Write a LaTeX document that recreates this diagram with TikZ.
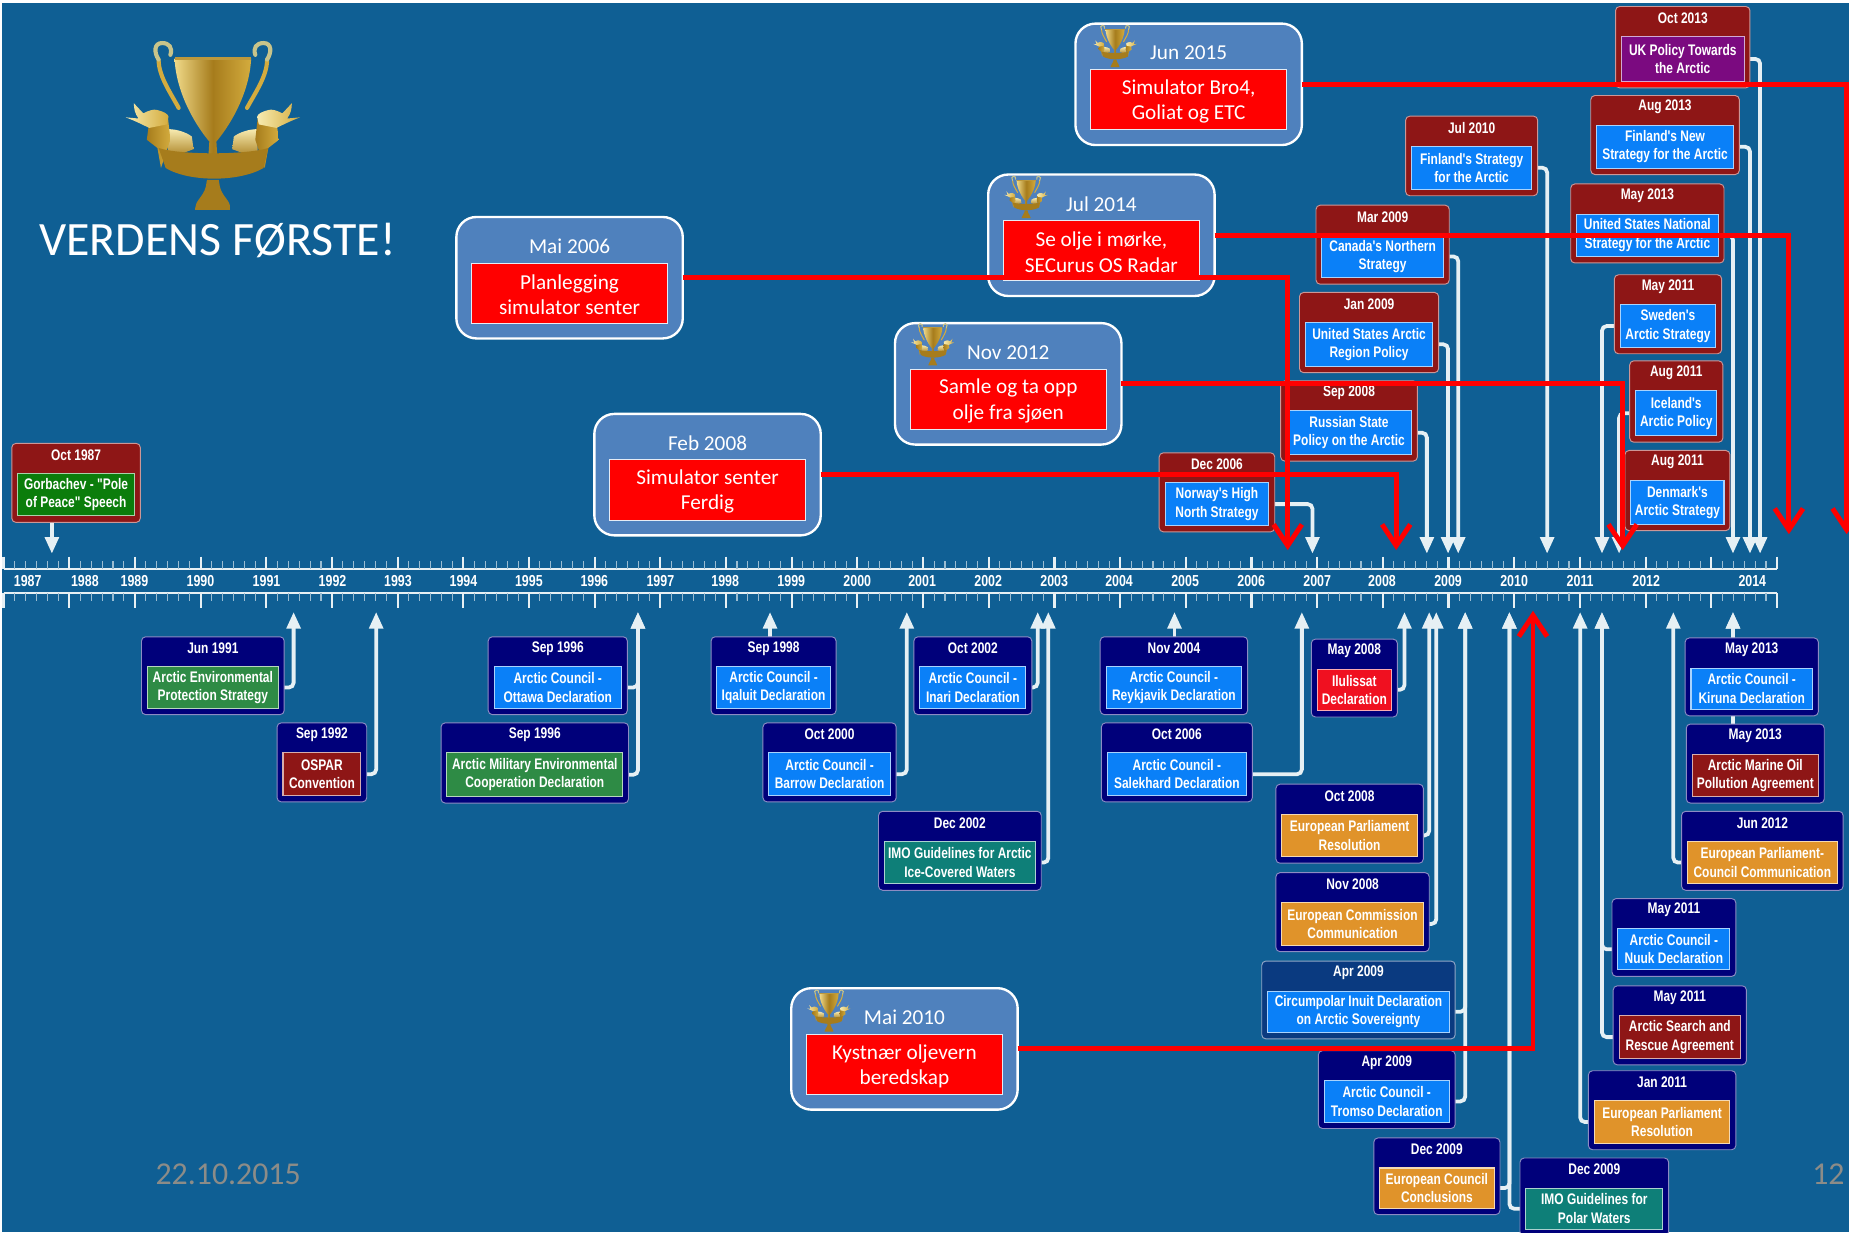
\documentclass[tikz,border=0pt]{standalone}
\usepackage{fontspec}
\usetikzlibrary{arrows.meta,calc}
\setmainfont{Carlito}
\newfontfamily\evfont[FakeStretch=0.78]{Liberation Sans Bold}
\definecolor{bgblue}{HTML}{0F5F94}
\definecolor{navy}{HTML}{00007A}
\definecolor{navyb}{HTML}{0A3A80}
\definecolor{dred}{HTML}{8E1616}
\definecolor{iblue}{HTML}{0A80F8}
\definecolor{igreen}{HTML}{2E8B45}
\definecolor{ggreen}{HTML}{0B7D0B}
\definecolor{iorange}{HTML}{E0932A}
\definecolor{iteal}{HTML}{0E7F78}
\definecolor{ipurple}{HTML}{7B0A80}
\definecolor{ired}{HTML}{F01020}
\definecolor{awardblue}{HTML}{4F81BD}
\definecolor{wire}{HTML}{E6F0F4}
\definecolor{foot}{HTML}{8C8C88}
\definecolor{goldA}{HTML}{EFD988}
\definecolor{goldB}{HTML}{A67C1C}
\definecolor{goldC}{HTML}{D4AC3E}
\definecolor{goldD}{HTML}{F7EBB0}
\definecolor{goldE}{HTML}{C8C48A}
\pgfdeclarelayer{bg}
\pgfsetlayers{bg,main}
\tikzset{
  x=1pt,y=-1pt,
  outerbox/.style={rectangle,rounded corners=3.5pt,inner sep=0pt,outer sep=0pt,line width=.8pt},
  innerbox/.style={rectangle,inner sep=0pt,outer sep=0pt,line width=.9pt,text=white,align=center,
    font=\evfont\fontsize{13}{15.6}\selectfont},
  datelabel/.style={text=white,inner sep=0pt,font=\evfont\fontsize{13}{14}\selectfont},
  yearlabel/.style={text=white,inner sep=0pt,font=\evfont\fontsize{13.5}{14}\selectfont},
  wconn/.style={draw=wire,line width=3.2pt,rounded corners=4pt,-{Triangle[width=11.5pt,length=14pt]}},
  rconn/.style={draw=red,line width=4.2pt,-{Straight Barb[length=18pt,width=24pt]}},
  awardbox/.style={rectangle,rounded corners=17pt,draw=white,line width=2pt,fill=awardblue,
    minimum width=192pt,minimum height=103pt,inner sep=0pt,outer sep=0pt},
  awardin/.style={rectangle,draw=white!85!awardblue,line width=.7pt,fill=red,
    minimum width=166pt,minimum height=51pt,inner sep=0pt,outer sep=0pt},
  awardtext/.style={text=white,align=center,inner sep=0pt,font=\fontsize{18}{21.5}\selectfont},
  awarddate/.style={text=white,inner sep=0pt,font=\fontsize{18}{21.5}\selectfont},
  footer/.style={text=foot,inner sep=0pt,font=\fontsize{27}{30}\selectfont},
}
% name, x1,y1,x2,y2, outer colour, inner colour, date, text
\newcommand\evt[9]{%
  \pgfmathsetmacro\ew{#4-#2}\pgfmathsetmacro\eh{#5-#3}%
  \pgfmathsetmacro\iw{\ew-10}\pgfmathsetmacro\ih{\eh-31}%
  \node[outerbox,fill=#6,draw=white!55!#6,minimum width=\ew pt,minimum height=\eh pt] (#1) at ({(#2+#4)/2},{(#3+#5)/2}) {};%
  \node[innerbox,fill=#7,draw=white!65!#7,minimum width=\iw pt,minimum height=\ih pt] (#1-i) at ({(#2+#4)/2},{#3+25.5+\ih/2}) {#9};%
  \node[datelabel] (#1-d) at ({(#2+#4)/2},{#3+9.8}) {#8};%
}
% name, x1, y1, date, text
\newcommand\award[5]{%
  \node[awardbox] (#1) at ({#2+96},{#3+51.5}) {};%
  \node[awardin] (#1-i) at ({#2+96},{#3+64.5}) {};%
  \node[awardtext] (#1-t) at ({#2+96},{#3+66}) {#5};%
  \node[awarddate] (#1-d) at ({#2+96},{#3+25}) {#4};%
}
% trophy: centre x, centre y, scale
\newcommand\trophy[3]{%
\begin{scope}[shift={(#1,#2)},scale=#3]
  \foreach \sg in {-1,1}{%
    \begin{scope}[xscale=\sg]
    % handle
    \draw[draw=goldC,line width=#3*3.5pt,line cap=round]
      (29,-15) .. controls (36,-28) and (46,-42) .. (46,-56);
    \draw[draw=goldE,line width=#3*3.5pt,line cap=round]
      (46,-56) .. controls (50,-62) and (50,-70) .. (43,-70)
      .. controls (37,-70) and (34,-66) .. (36,-60);
    % flap of the ribbon
    \shade[top color=goldD,bottom color=goldB,draw=none]
      (38,3) .. controls (30,3) and (22,6) .. (17.8,9.3) -- (16.4,20) -- (38,28) -- cycle;
    % loop of the ribbon
    \shade[left color=goldB,right color=goldC,draw=none]
      (54,-3) -- (38,-6) -- (36,12) -- (44,36) -- (47,19) -- (56,12) -- cycle;
    % tail of the ribbon
    \shade[left color=goldD,right color=goldC,draw=none]
      (67,-19) -- (59,-10.4) .. controls (54,-13) and (50,-14) .. (47.5,-13.3)
      .. controls (42,-12) and (38,-10) .. (37.6,-7.6) -- (39,-1) -- (54,2)
      .. controls (60,-1) and (66,-4) .. (74,-7) -- (63,-6)
      .. controls (66,-10) and (67,-14) .. (67,-19) -- cycle;
    \end{scope}}
  % cup and neck
  \shade[left color=goldA,right color=goldC,middle color=goldB,draw=none]
    (-32.5,-57) -- (32.5,-57) .. controls (31,-25) and (12,3) .. (3,13.5) -- (4,30) -- (-4,30) -- (-3,13.5)
    .. controls (-12,3) and (-31,-25) .. (-32.5,-57) -- cycle;
  \fill[goldB!70!goldA] (-32.5,-58.5) rectangle (32.5,-56);
  % banner
  \shade[left color=goldB,middle color=goldD,right color=goldB,draw=none]
    (-46,19) .. controls (-28,25) and (28,25) .. (47,19)
    -- (43,36) .. controls (22,48) and (-20,48) .. (-40,36) -- cycle;
  \draw[goldB,line width=#3*1.2pt] (-3,31) -- (0,29.5) -- (0,40) (-2,40) -- (2,40);
  % foot
  \shade[left color=goldB,middle color=goldA,right color=goldB,draw=none]
    (-5,46) -- (5,46) -- (6,52) .. controls (8,60) and (15,64) .. (15,70)
    -- (15,71.5) -- (-15,71.5) -- (-15,70)
    .. controls (-15,64) and (-8,60) .. (-6,52) -- cycle;
\end{scope}}
\begin{document}
\begin{tikzpicture}
\useasboundingbox (0,0) rectangle (1568,1044.8);
\begin{pgfonlayer}{bg}
  \fill[white] (0,0) rectangle (1568,1044.8);
  \fill[bgblue] (1.8,2.5) rectangle (1568,1044.8);
\end{pgfonlayer}

% time axis
\begin{scope}[draw=wire]
  \draw[line width=1.6pt] (3,482.6) -- (1507,482.6);
  \draw[line width=1.6pt] (3,503) -- (1507,503);
  \foreach \k in {0,...,27}{
    \draw[line width=1.8pt] ({3+55.7*\k},472) -- ({3+55.7*\k},482.6);
    \draw[line width=1.8pt] ({3+55.7*\k},503) -- ({3+55.7*\k},516);
  }
  \foreach \k in {0,...,26}{
    \foreach \m in {1,...,5}{
      \draw[draw=wire!65!bgblue,line width=.9pt] ({3+55.7*\k+55.7*\m/6},476) -- ({3+55.7*\k+55.7*\m/6},482.6);
      \draw[draw=wire!65!bgblue,line width=.9pt] ({3+55.7*\k+55.7*\m/6},503) -- ({3+55.7*\k+55.7*\m/6},510);
    }
  }
\end{scope}
\foreach \yy/\xx in {1987/23.5,1988/72,1989/114,1990/170,1991/226,1992/282,1993/337.5,1994/393,1995/448.5,1996/504,1997/560,1998/615,1999/671,2000/727,2001/782,2002/838,2003/894,2004/949,2005/1005,2006/1061,2007/1117,2008/1172,2009/1228,2010/1284,2011/1340,2012/1396,2014/1486}
  \node[yearlabel] (y\yy) at (\xx,492.8) {\yy};

% events above the axis
\evt{gorb}{10}{376}{119}{443}{dred}{ggreen}{Oct 1987}{Gorbachev - "Pole\\of Peace" Speech}
\evt{dec06}{983}{384}{1081}{451}{dred}{iblue}{Dec 2006}{Norway's High\\North Strategy}
\evt{sep08}{1086}{323}{1202}{391}{dred}{iblue}{Sep 2008}{Russian State\\Policy on the Arctic}
\evt{jan09}{1102}{248}{1220}{316}{dred}{iblue}{Jan 2009}{United States Arctic\\Region Policy}
\evt{mar09}{1116}{174}{1229}{241}{dred}{iblue}{Mar 2009}{Canada's Northern\\Strategy}
\evt{jul10}{1192}{98.5}{1304}{166}{dred}{iblue}{Jul 2010}{Finland's Strategy\\for the Arctic}
\evt{may11s}{1369}{233}{1460}{300}{dred}{iblue}{May 2011}{Sweden's\\Arctic Strategy}
\evt{aug11i}{1382}{306}{1461}{375}{dred}{iblue}{Aug 2011}{Iceland's\\Arctic Policy}
\evt{aug11d}{1378}{382}{1467}{450}{dred}{iblue}{Aug 2011}{Denmark's\\Arctic Strategy}
\evt{may13u}{1332}{156}{1462}{223}{dred}{iblue}{May 2013}{United States National\\Strategy for the Arctic}
\evt{aug13}{1349}{81}{1475}{148}{dred}{iblue}{Aug 2013}{Finland's New\\Strategy for the Arctic}
\evt{oct13}{1370}{5.5}{1484}{74.5}{dred}{ipurple}{Oct 2013}{UK Policy Towards\\the Arctic}

% events below the axis
\evt{jun91}{120}{540}{241}{606}{navy}{igreen}{Jun 1991}{Arctic Environmental\\Protection Strategy}
\evt{sep92}{235}{613}{311}{680}{navy}{dred}{Sep 1992}{OSPAR\\Convention}
\evt{sep96o}{414}{540}{532}{606}{navy}{iblue}{Sep 1996}{Arctic Council -\\Ottawa Declaration}
\evt{sep96m}{374}{613}{533}{681}{navy}{igreen}{Sep 1996}{Arctic Military Environmental\\Cooperation Declaration}
\evt{sep98}{603}{540}{709}{606}{navy}{iblue}{Sep 1998}{Arctic Council -\\Iqaluit Declaration}
\evt{oct00}{647}{613}{760}{680}{navy}{iblue}{Oct 2000}{Arctic Council -\\Barrow Declaration}
\evt{oct02}{775}{540}{875}{606}{navy}{iblue}{Oct 2002}{Arctic Council -\\Inari Declaration}
\evt{dec02}{745}{688}{883}{755}{navy}{iteal}{Dec 2002}{IMO Guidelines for Arctic\\Ice-Covered Waters}
\evt{nov04}{933}{540}{1058}{606}{navy}{iblue}{Nov 2004}{Arctic Council -\\Reykjavik Declaration}
\evt{oct06}{934}{613}{1062}{680}{navy}{iblue}{Oct 2006}{Arctic Council -\\Salekhard Declaration}
\evt{may08}{1112}{542}{1185}{608}{navy}{ired}{May 2008}{Ilulissat\\Declaration}
\evt{oct08}{1082}{665}{1207}{732}{navy}{iorange}{Oct 2008}{European Parliament\\Resolution}
\evt{nov08}{1082}{740}{1212}{807}{navy}{iorange}{Nov 2008}{European Commission\\Communication}
\evt{apr09c}{1070}{815}{1234}{881}{navyb}{iblue}{Apr 2009}{Circumpolar Inuit Declaration\\on Arctic Sovereignty}
\evt{apr09t}{1118}{891}{1234}{957}{navy}{iblue}{Apr 2009}{Arctic Council -\\Tromso Declaration}
\evt{dec09e}{1165}{965}{1272}{1030}{navy}{iorange}{Dec 2009}{European Council\\Conclusions}
\evt{dec09i}{1289}{982}{1415}{1048}{navy}{iteal}{Dec 2009}{IMO Guidelines for\\Polar Waters}
\evt{may11n}{1367}{762}{1472}{828}{navy}{iblue}{May 2011}{Arctic Council -\\Nuuk Declaration}
\evt{may11r}{1368}{836}{1481}{903}{navy}{dred}{May 2011}{Arctic Search and\\Rescue Agreement}
\evt{jan11}{1347}{908}{1472}{975}{navy}{iorange}{Jan 2011}{European Parliament\\Resolution}
\evt{jun12}{1426}{688}{1563}{755}{navy}{iorange}{Jun 2012}{European Parliament-\\Council Communication}
\evt{may13k}{1429}{541}{1542}{607}{navy}{iblue}{May 2013}{Arctic Council -\\Kiruna Declaration}
\evt{may13m}{1430}{614}{1547}{681}{navy}{dred}{May 2013}{Arctic Marine Oil\\Pollution Agreement}

% arrow ends on the time axis
\foreach \tn/\tx in {a87/44,a06n/1113,a08s/1210,a09j/1228,a09m/1236.6,a10/1312,a11s/1358.5,a11i/1373,a13u/1469.6,a13a/1484,a13o/1492.6}
  \coordinate (\tn) at (\tx,469.5);
\foreach \tn/\tx in {b91/249,b92/319,b96/541,b98/653,b00/769,b02a/880,b02b/889,b04/996,b06/1104,b08a/1191,b08b/1212,b08c/1218,b09a/1242.5,b09b/1280,b11a/1340,b11b/1358.5,b12/1419,b13/1469.6}
  \coordinate (\tn) at (\tx,519);

\begin{pgfonlayer}{bg}
  \draw[wconn] (gorb.south -| a87) -- (a87);
  \draw[wconn] (dec06.east |- dec06-i.center) -| (a06n);
  \draw[wconn] (sep08.east |- sep08-i.center) -| (a08s);
  \draw[wconn] (jan09.east |- jan09-i.center) -| (a09j);
  \draw[wconn] (mar09.east |- mar09-i.center) -| (a09m);
  \draw[wconn] (jul10.east |- jul10-i.center) -| (a10);
  \draw[wconn] (may11s.west |- may11s-i.center) -| (a11s);
  \draw[wconn] (aug11i.west |- aug11i-i.center) -| (a11i);
  \draw[wconn] (may13u.east |- may13u-i.center) -| (a13u);
  \draw[wconn] (aug13.east |- aug13-i.center) -| (a13a);
  \draw[wconn] (oct13.east |- oct13-i.center) -| (a13o);
  \draw[wconn] (jun91.east |- jun91-i.center) -| (b91);
  \draw[wconn] (sep92.east |- sep92-i.center) -| (b92);
  \draw[wconn] (sep96o.east |- sep96o-i.center) -| (b96);
  \draw[wconn] (sep96m.east |- sep96m-i.center) -| (b96);
  \draw[wconn] (sep98.north -| b98) -- (b98);
  \draw[wconn] (oct00.east |- oct00-i.center) -| (b00);
  \draw[wconn] (oct02.east |- oct02-i.center) -| (b02a);
  \draw[wconn] (dec02.east |- dec02-i.center) -| (b02b);
  \draw[wconn] (nov04.north -| b04) -- (b04);
  \draw[wconn] (oct06.east |- oct06-i.center) -| (b06);
  \draw[wconn] (may08.east |- may08-i.center) -| (b08a);
  \draw[wconn] (oct08.east |- oct08-i.center) -| (b08b);
  \draw[wconn] (nov08.east |- nov08-i.center) -| (b08c);
  \draw[wconn] (apr09c.east |- apr09c-i.center) -| (b09a);
  \draw[wconn] (apr09t.east |- apr09t-i.center) -| (b09a);
  \draw[wconn] (dec09e.east |- dec09e-i.center) -| (b09b);
  \draw[wconn] (dec09i.west |- dec09i-i.center) -| (b09b);
  \draw[wconn] (may11n.west |- may11n-i.center) -| (b11b);
  \draw[wconn] (may11r.west |- may11r-i.center) -| (b11b);
  \draw[wconn] (jan11.west |- jan11-i.center) -| (b11a);
  \draw[wconn] (jun12.west |- jun12-i.center) -| (b12);
  \draw[wconn] (may13k.north -| b13) -- (b13);
  \draw[wconn] (may13m.north -| b13) -- (b13);
\end{pgfonlayer}

% award boxes
\award{a06}{387}{184}{Mai 2006}{Planlegging\\simulator senter}
\award{a08}{504}{351}{Feb 2008}{Simulator senter\\Ferdig}
\award{a12}{759}{274}{Nov 2012}{Samle og ta opp\\olje fra sjøen}
\award{a14}{838}{148}{Jul 2014}{Se olje i mørke,\\SECurus OS Radar}
\award{a15}{912}{20}{Jun 2015}{Simulator Bro4,\\Goliat og ETC}
\award{a10b}{671}{838}{Mai 2010}{Kystnær oljevern\\beredskap}

\trophy{180.5}{106.5}{1}
\trophy{945.6}{39}{.25}
\trophy{870.2}{167}{.25}
\trophy{791}{292}{.25}
\trophy{703}{857}{.25}

\node[text=white,inner sep=0pt,font=\fontsize{40.6}{44}\selectfont] (title) at (184.5,204) {VERDENS FØRSTE!};
\node[footer] (fdate) at (193.5,996) {22.10.2015};
\node[footer] (fnum) at (1550.5,996) {12};

% red connectors
\coordinate (r06) at (1092,466.5);
\coordinate (r08) at (1184,466.5);
\coordinate (r12) at (1376,466.5);
\coordinate (r14) at (1517,453);
\coordinate (r15) at (1566,453);
\coordinate (r10) at (1300,518);
\draw[rconn] (a06.east) -| (r06);
\draw[rconn] (a08.east) -| (r08);
\draw[rconn] (a12.east) -| (r12);
\draw[rconn] (a14.east) -| (r14);
\draw[rconn] (a15.east) -| (r15);
\draw[rconn] (a10b.east) -| (r10);
\end{tikzpicture}
\end{document}
